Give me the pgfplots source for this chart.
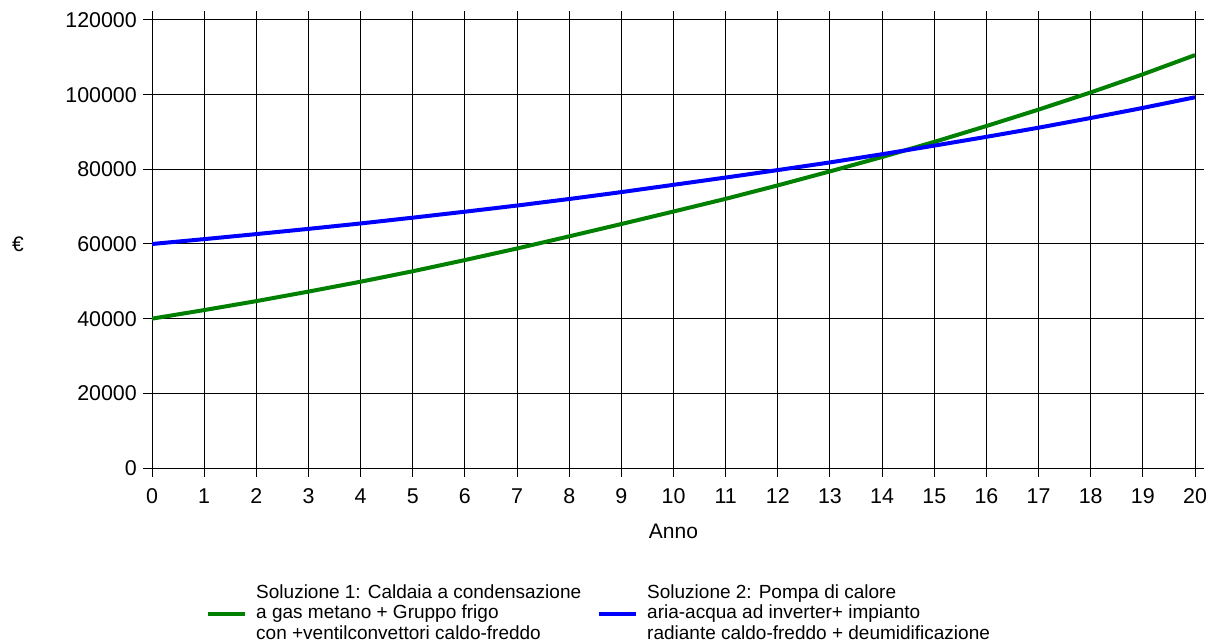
\documentclass[border=0pt]{standalone}
\usepackage{pgfplots}
\pgfplotsset{compat=1.18}
\usepackage{fontspec}
\setmainfont{Liberation Sans}

\definecolor{sol1}{RGB}{0,128,0}
\definecolor{sol2}{RGB}{0,0,255}

\begin{document}
\begin{tikzpicture}
\path[use as bounding box] (0,0) rectangle (1208bp,641bp);
\begin{axis}[
  at={(152bp,173bp)}, anchor=south west,
  scale only axis, width=1043bp, height=448bp,
  xmin=0, xmax=20, ymin=0, ymax=120000,
  xtick={0,1,...,20},
  ytick={0,20000,40000,60000,80000,100000,120000},
  scaled y ticks=false,
  /pgf/number format/fixed,
  /pgf/number format/precision=0,
  /pgf/number format/assume math mode=true,
  /pgf/number format/1000 sep={},
  grid=major,
  major grid style={black, line width=1bp},
  axis line style={black, line width=1bp},
  tick style={black, line width=1bp},
  major tick length=9bp,
  tick align=outside,
  tick label style={font=\fontsize{21.4bp}{24bp}\selectfont, inner sep=0pt},
  xticklabel style={anchor=base, yshift=-26.5bp},
  yticklabel style={anchor=east, xshift=-6bp},
  every axis x label/.style={at={(axis description cs:0.5,0)}, anchor=center, yshift=-63.5bp, font=\fontsize{21bp}{24bp}\selectfont},
  every axis y label/.style={at={(axis description cs:0,0.5)}, anchor=center, xshift=-134bp, font=\fontsize{21bp}{24bp}\selectfont},
  xlabel={Anno},
  ylabel={€},
  legend columns=2,
  legend cell align=left,
  legend image code/.code={\draw[#1, line width=4bp] (0bp,-12bp) -- (37bp,-12bp);},
  legend style={at={(axis description cs:0.0518,-0.3002)}, anchor=west,
    draw=none, fill=none, inner sep=0pt,
    font=\fontsize{19bp}{20.7bp}\selectfont,
    nodes={inner sep=0pt},
    /tikz/every odd column/.append style={column sep=9bp},
    /tikz/every even column/.append style={column sep=16bp}},
]
% Solution 1: condensing gas boiler + chiller with fan coils
\addplot[sol1, line width=4bp] coordinates {
  (0,40000) (1,42300) (2,44700) (3,47250) (4,49900) (5,52700) (6,55700)
  (7,58800) (8,62050) (9,65350) (10,68700) (11,72100) (12,75700)
  (13,79450) (14,83300) (15,87350) (16,91600) (17,96000) (18,100600)
  (19,105450) (20,110600)};
\addlegendentry{\begin{tabular}{@{}l@{}}Soluzione 1: Caldaia a condensazione\\a gas metano + Gruppo frigo\\con +ventilconvettori caldo-freddo\end{tabular}}
% Solution 2: air-water inverter heat pump + radiant system
\addplot[sol2, line width=4bp] coordinates {
  (0,60000) (1,61300) (2,62650) (3,64050) (4,65500) (5,67050) (6,68650)
  (7,70300) (8,72050) (9,73900) (10,75850) (11,77800) (12,79800)
  (13,81850) (14,84050) (15,86350) (16,88700) (17,91150) (18,93750)
  (19,96450) (20,99300)};
\addlegendentry{\begin{tabular}{@{}l@{}}Soluzione 2: Pompa di calore\\aria-acqua ad inverter+ impianto\\radiante caldo-freddo + deumidificazione\end{tabular}}
\end{axis}
\end{tikzpicture}
\end{document}
